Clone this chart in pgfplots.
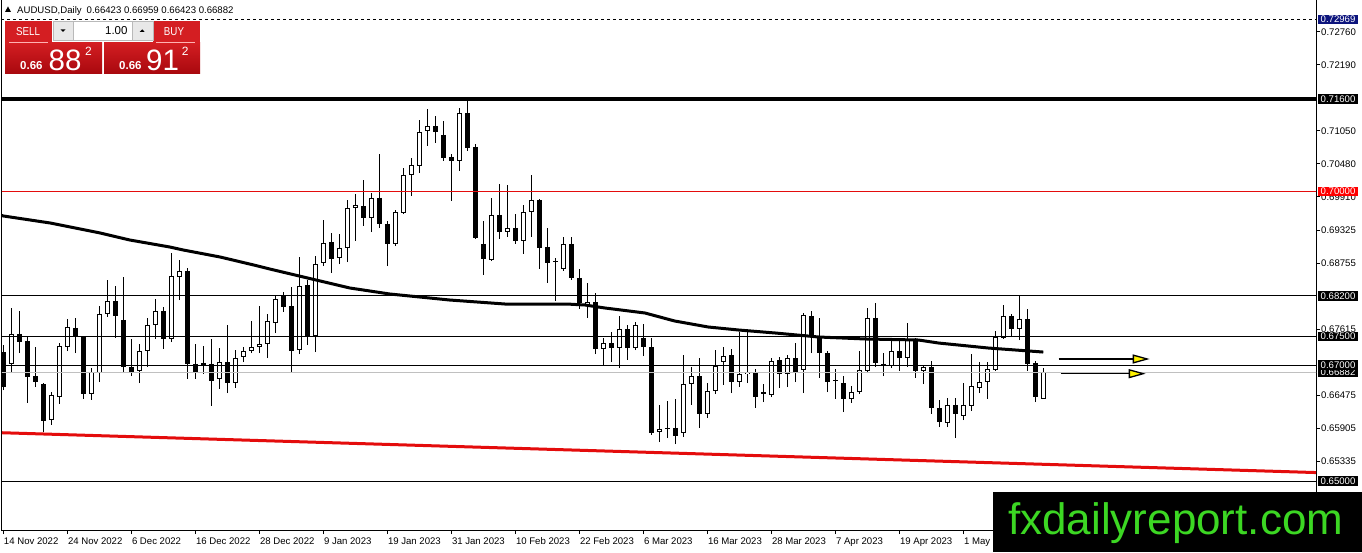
\documentclass[border=0pt]{standalone}
\usepackage{pgfplots}
\pgfplotsset{compat=1.18}
\usepackage{pgfplotstable}
\usepackage{graphicx}
\usepackage{fontspec}
\setmainfont{Liberation Sans}
\usetikzlibrary{arrows.meta}

\definecolor{mtred}{RGB}{212,30,34}
\definecolor{mtdark}{RGB}{168,8,14}
\definecolor{navybox}{RGB}{12,20,125}
\definecolor{trend}{RGB}{228,12,12}
\definecolor{wm}{RGB}{60,215,35}
\definecolor{bidgray}{RGB}{192,192,192}

\pgfplotstableread{
k o h l c
1 0.67022 0.67989 0.66866 0.67540
6 0.66054 0.66537 0.65968 0.66486
7 0.66451 0.67384 0.66331 0.67332
8 0.67315 0.67800 0.67246 0.67661
11 0.66503 0.66953 0.66400 0.66883
12 0.66866 0.68023 0.66710 0.67886
13 0.67886 0.68473 0.67834 0.68110
17 0.66901 0.67367 0.66693 0.67246
18 0.67246 0.67817 0.66970 0.67696
19 0.67696 0.68145 0.67454 0.67938
21 0.67454 0.68939 0.67401 0.68542
22 0.68525 0.68818 0.68127 0.68629
27 0.66763 0.67298 0.66590 0.67056
29 0.66693 0.67263 0.66607 0.67125
30 0.67142 0.67315 0.67056 0.67246
31 0.67246 0.67765 0.67211 0.67315
32 0.67315 0.68023 0.67211 0.67367
33 0.67367 0.67886 0.67125 0.67765
34 0.67730 0.68214 0.67557 0.68145
37 0.67263 0.68870 0.67194 0.68369
39 0.67505 0.68887 0.67228 0.68749
40 0.68766 0.69510 0.68714 0.69112
42 0.68853 0.69268 0.68749 0.69026
43 0.69026 0.69855 0.68783 0.69717
44 0.69717 0.69959 0.69147 0.69769
46 0.69544 0.69976 0.69302 0.69890
49 0.69095 0.69682 0.69060 0.69647
50 0.69630 0.70408 0.69613 0.70287
51 0.70287 0.70581 0.69924 0.70460
52 0.70442 0.71237 0.70321 0.71030
53 0.71048 0.71428 0.70788 0.71133
57 0.70529 0.71445 0.70356 0.71358
61 0.68818 0.69890 0.68801 0.69596
63 0.69302 0.70115 0.69216 0.69372
65 0.69147 0.69769 0.68922 0.69647
66 0.69647 0.70287 0.69216 0.69855
70 0.68663 0.69216 0.68629 0.69095
73 0.68023 0.68421 0.67817 0.68092
75 0.67281 0.67471 0.66987 0.67384
77 0.67298 0.67851 0.66953 0.67626
79 0.67298 0.67747 0.67263 0.67696
82 0.65846 0.66314 0.65673 0.65899
85 0.65829 0.67177 0.65760 0.66676
86 0.66676 0.66970 0.66314 0.66814
88 0.66158 0.66693 0.66089 0.66555
89 0.66555 0.67263 0.66503 0.66987
90 0.67056 0.67315 0.66659 0.67159
92 0.66710 0.67574 0.66624 0.66849
93 0.66849 0.67592 0.66693 0.66883
96 0.66486 0.67125 0.66451 0.67074
98 0.66849 0.67177 0.66624 0.67125
100 0.66918 0.67903 0.66520 0.67869
106 0.66417 0.66641 0.66348 0.66537
107 0.66537 0.67246 0.66503 0.66918
108 0.66901 0.67989 0.66866 0.67817
111 0.66987 0.67471 0.66953 0.67246
113 0.67125 0.67730 0.66970 0.67436
115 0.66901 0.66987 0.66676 0.66970
118 0.66002 0.66434 0.65933 0.66314
120 0.66123 0.66693 0.66054 0.66314
121 0.66296 0.67194 0.66210 0.66641
122 0.66607 0.67056 0.66520 0.66710
123 0.66710 0.67056 0.66417 0.66935
124 0.66918 0.67592 0.66901 0.67488
125 0.67471 0.68041 0.67454 0.67851
127 0.67626 0.68196 0.67436 0.67800
130 0.66423 0.66959 0.66423 0.66882
}\up

\pgfplotstableread{
k o h l c
0 0.67228 0.67350 0.66572 0.66624
2 0.67540 0.67938 0.67211 0.67401
3 0.67419 0.67505 0.66348 0.66797
4 0.66814 0.67315 0.66624 0.66710
5 0.66676 0.66693 0.65846 0.66037
9 0.67644 0.67817 0.67211 0.67505
10 0.67488 0.67505 0.66417 0.66503
14 0.68110 0.68369 0.67471 0.67851
15 0.67782 0.68525 0.66866 0.66970
16 0.66970 0.67454 0.66814 0.66866
20 0.67938 0.68006 0.67281 0.67454
23 0.68629 0.68681 0.66763 0.67022
24 0.67022 0.67367 0.66763 0.66866
25 0.67039 0.67332 0.66849 0.66987
26 0.67022 0.67454 0.66296 0.66728
28 0.67056 0.67696 0.66520 0.66693
35 0.68196 0.68265 0.67920 0.68006
36 0.68023 0.68352 0.66883 0.67246
38 0.68387 0.68473 0.67350 0.67505
41 0.69129 0.69285 0.68594 0.68836
45 0.69751 0.70201 0.69406 0.69544
47 0.69890 0.70650 0.69372 0.69441
48 0.69441 0.69493 0.68714 0.69095
54 0.71133 0.71306 0.70840 0.71030
55 0.70979 0.71220 0.70529 0.70581
56 0.70598 0.70650 0.69838 0.70529
58 0.71358 0.71583 0.70702 0.70754
59 0.70771 0.70823 0.69182 0.69199
60 0.69095 0.69493 0.68560 0.68836
62 0.69596 0.70132 0.69182 0.69302
64 0.69372 0.69613 0.69095 0.69147
67 0.69855 0.69872 0.68663 0.69026
68 0.69043 0.69372 0.68421 0.68766
69 0.68801 0.68853 0.68110 0.68783
71 0.69095 0.69216 0.68473 0.68508
72 0.68508 0.68663 0.67972 0.68075
74 0.68092 0.68248 0.67194 0.67281
76 0.67384 0.67574 0.67056 0.67298
78 0.67626 0.67696 0.67091 0.67298
80 0.67471 0.67713 0.67159 0.67315
81 0.67315 0.67471 0.65795 0.65829
83 0.65916 0.66383 0.65743 0.65899
84 0.65916 0.66417 0.65639 0.65777
87 0.66814 0.67125 0.65916 0.66158
91 0.67177 0.67281 0.66520 0.66710
94 0.66883 0.66935 0.66262 0.66451
95 0.66537 0.66676 0.66365 0.66503
97 0.67091 0.67142 0.66607 0.66849
99 0.67125 0.67384 0.66710 0.66866
101 0.67851 0.67938 0.67211 0.67505
102 0.67505 0.67817 0.66780 0.67211
103 0.67211 0.67246 0.66537 0.66710
104 0.66745 0.66935 0.66417 0.66728
105 0.66693 0.66814 0.66192 0.66417
109 0.67817 0.68075 0.66970 0.67039
110 0.67022 0.67211 0.66814 0.66987
112 0.67246 0.67436 0.66901 0.67125
114 0.67454 0.67471 0.66780 0.66901
116 0.66970 0.67074 0.66158 0.66262
117 0.66262 0.66400 0.65933 0.66019
119 0.66314 0.66434 0.65743 0.66158
126 0.67851 0.67886 0.67488 0.67626
128 0.67800 0.67972 0.66901 0.67022
129 0.67039 0.67074 0.66365 0.66451
}\dn

\pgfplotsset{
  candle/.style 2 args={draw=none, mark=none, forget plot,
    error bars/.cd, y dir=both, y explicit, error mark=none,
    error bar style={draw=#1, line width=#2, solid}},
}

\begin{document}
\begin{tikzpicture}
\fill[white] (0pt,0pt) rectangle (1362pt,552pt);
\begin{axis}[
  at={(2pt,22pt)}, anchor=south west,
  width=1314pt, height=530pt, scale only axis,
  xmin=-0.1625, xmax=164.0875, ymin=0.641536, ymax=0.733104,
  clip mode=individual,
  axis line style={black, line width=1pt},
  xtick={0,8,...,120},
  xticklabels={14 Nov 2022,24 Nov 2022,6 Dec 2022,16 Dec 2022,28 Dec 2022,9 Jan 2023,19 Jan 2023,31 Jan 2023,10 Feb 2023,22 Feb 2023,6 Mar 2023,16 Mar 2023,28 Mar 2023,7 Apr 2023,19 Apr 2023,1 May 2023},
  xtick pos=bottom, ytick pos=right, yticklabel pos=right,
  tick align=outside, major tick length=4pt,
  tick style={black, line width=0.8pt},
  ytick={0.7276,0.7219,0.7105,0.7048,0.6991,0.69325,0.68755,0.67615,0.66475,0.65905,0.65335},
  scaled y ticks=false,
  /pgf/number format/assume math mode=true,
  y tick label style={/pgf/number format/fixed, /pgf/number format/fixed zerofill, /pgf/number format/precision=5},
  tick label style={font=\fontsize{9.6}{11}\selectfont},
  yticklabel style={anchor=west, inner xsep=1pt},
  xticklabel style={anchor=north west, inner xsep=0.5pt},
]
% wicks
\addplot[candle={black}{1pt}]
  table[x=k, y=l, y error plus expr={\thisrow{h}-\thisrow{l}}, y error minus expr={0}] {\dn};
\addplot[candle={black}{1pt}]
  table[x=k, y=l, y error plus expr={\thisrow{h}-\thisrow{l}}, y error minus expr={0}] {\up};
% bodies
\addplot[candle={black}{5pt}]
  table[x=k, y=o, y error plus expr={0}, y error minus expr={max(\thisrow{o}-\thisrow{c},0.00018)}] {\dn};
\addplot[candle={black}{5pt}]
  table[x=k, y=c, y error plus expr={0}, y error minus expr={\thisrow{c}-\thisrow{o}}] {\up};
\addplot[candle={white}{3pt}]
  table[x=k, y expr={\thisrow{c}-0.000173}, y error plus expr={0}, y error minus expr={max(\thisrow{c}-\thisrow{o}-0.000346,0.00001)}] {\up};
% moving average
\addplot[black, line width=3pt, line join=round] coordinates {
(-0.3,0.69592) (0,0.69579) (5.84,0.69458) (12.1,0.69285) (15.8,0.69164) (20.8,0.69043) (22.5,0.68991)
(27.1,0.68870) (31.3,0.68732) (33.3,0.68663) (37.5,0.68525) (43.3,0.68335) (48.3,0.68231) (55.8,0.68127)
(62.7,0.68058) (70.4,0.68058) (72.7,0.68041) (75.2,0.67989) (80.2,0.67903) (83.9,0.67765) (88.1,0.67661)
(91.9,0.67609) (96.5,0.67557) (101.9,0.67488) (107.7,0.67454) (114.4,0.67436) (116.9,0.67384)
(123.1,0.67298) (130,0.67228)};
% horizontal levels
\addplot[black, line width=1pt, dash pattern=on 3pt off 3pt] coordinates {(-1,0.72969) (170,0.72969)};
\addplot[black, line width=4pt] coordinates {(-1,0.716) (170,0.716)};
\addplot[trend, line width=1pt] coordinates {(-1,0.70) (170,0.70)};
\addplot[black, line width=1pt] coordinates {(-1,0.682) (170,0.682)};
\addplot[black, line width=1pt] coordinates {(-1,0.675) (170,0.675)};
\addplot[black, line width=1pt] coordinates {(-1,0.670) (170,0.670)};
\addplot[bidgray, line width=1pt] coordinates {(-1,0.66882) (170,0.66882)};
\addplot[black, line width=1pt] coordinates {(-1,0.650) (170,0.650)};
% trend line
\addplot[trend, line width=3pt] coordinates {(-0.1625,0.65834) (164.0875,0.65146)};
% arrows
\addplot[black, line width=1.3pt, -{Triangle[length=17pt,width=9pt,fill=yellow]}] coordinates {(131.9,0.67108) (143.3,0.67108)};
\addplot[black, line width=1.3pt, -{Triangle[length=17pt,width=9pt,fill=yellow]}] coordinates {(132.2,0.66854) (142.8,0.66854)};
% price boxes
\tikzset{pbox/.style={anchor=west, xshift=2pt, inner xsep=2.5pt, inner ysep=1pt, text height=7pt, text depth=0.5pt, text=white, font=\fontsize{9.6}{11}\selectfont}}
\node[pbox, fill=navybox] at (axis cs:164.0875,0.72969) {0.72969};
\node[pbox, fill=black] at (axis cs:164.0875,0.716) {0.71600};
\node[pbox, fill=red] at (axis cs:164.0875,0.70) {0.70000};
\node[pbox, fill=black] at (axis cs:164.0875,0.682) {0.68200};
\node[pbox, fill=black] at (axis cs:164.0875,0.675) {0.67500};
\node[pbox, fill=black] at (axis cs:164.0875,0.66882) {0.66882};
\node[pbox, fill=black] at (axis cs:164.0875,0.670) {0.67000};
\node[pbox, fill=black] at (axis cs:164.0875,0.650) {0.65000};
\end{axis}
\begin{scope}[x=1pt,y=-1pt,shift={(0pt,552pt)}]
% title
\fill (5,12) -- (11,12) -- (8,6.5) -- cycle;
\node[anchor=base west, inner sep=0pt, font=\fontsize{9.6}{11}\selectfont] at (17,14) {AUDUSD,Daily\hspace{5pt}0.66423 0.66959 0.66423 0.66882};
% trading panel
\fill[mtred] (5,20.7) rectangle (52,42.3);
\fill[mtred] (153,20.7) rectangle (200,42.3);
\shade[top color=mtred, bottom color=mtdark] (5,42.3) rectangle (102,74);
\shade[top color=mtred, bottom color=mtdark] (104,42.3) rectangle (200,74);
\draw[red!30!white, line width=0.8pt] (9,42.3) -- (48,42.3);
\draw[red!30!white, line width=0.8pt] (156,42.3) -- (195,42.3);
\filldraw[fill=white, draw=gray!55] (53,21.3) rectangle (152.7,40);
\filldraw[fill=gray!18, draw=gray!55] (53,21.3) rectangle (73.3,40);
\filldraw[fill=gray!18, draw=gray!55] (131.7,21.3) rectangle (152.7,40);
\fill (60.5,29.3) -- (65.5,29.3) -- (63,32) -- cycle;
\fill (139.7,32) -- (144.7,32) -- (142.2,29.3) -- cycle;
\node[anchor=base east, inner sep=0pt, font=\fontsize{11.5}{12}\selectfont] at (127.7,34.3) {1.00};
\node[anchor=base, inner sep=0pt, text=white, font=\fontsize{11.5}{12}\selectfont] at (28,35.7) {\scalebox{0.85}[1]{SELL}};
\node[anchor=base, inner sep=0pt, text=white, font=\fontsize{11.5}{12}\selectfont] at (174,35.7) {\scalebox{0.85}[1]{BUY}};
\node[anchor=base west, inner sep=0pt, text=white, font=\bfseries\fontsize{11.5}{12}\selectfont] at (20,69.5) {0.66};
\node[anchor=base west, inner sep=0pt, text=white, font=\fontsize{29.5}{30}\selectfont] at (48.5,70.5) {88};
\node[anchor=base west, inner sep=0pt, text=white, font=\fontsize{12}{12}\selectfont] at (85,55.8) {2};
\node[anchor=base west, inner sep=0pt, text=white, font=\bfseries\fontsize{11.5}{12}\selectfont] at (119,69.5) {0.66};
\node[anchor=base west, inner sep=0pt, text=white, font=\fontsize{29.5}{30}\selectfont] at (146,70.5) {91};
\node[anchor=base west, inner sep=0pt, text=white, font=\fontsize{12}{12}\selectfont] at (181.7,55.8) {2};
% watermark
\fill[black] (993,491.7) rectangle (1362,552);
\node[anchor=base west, inner sep=0pt, text=wm, font=\fontsize{44}{44}\selectfont] at (1008,534) {fxdailyreport.com};
\pgfresetboundingbox
\path[use as bounding box] (0,0) rectangle (1362,552);
\end{scope}
\end{tikzpicture}
\end{document}
